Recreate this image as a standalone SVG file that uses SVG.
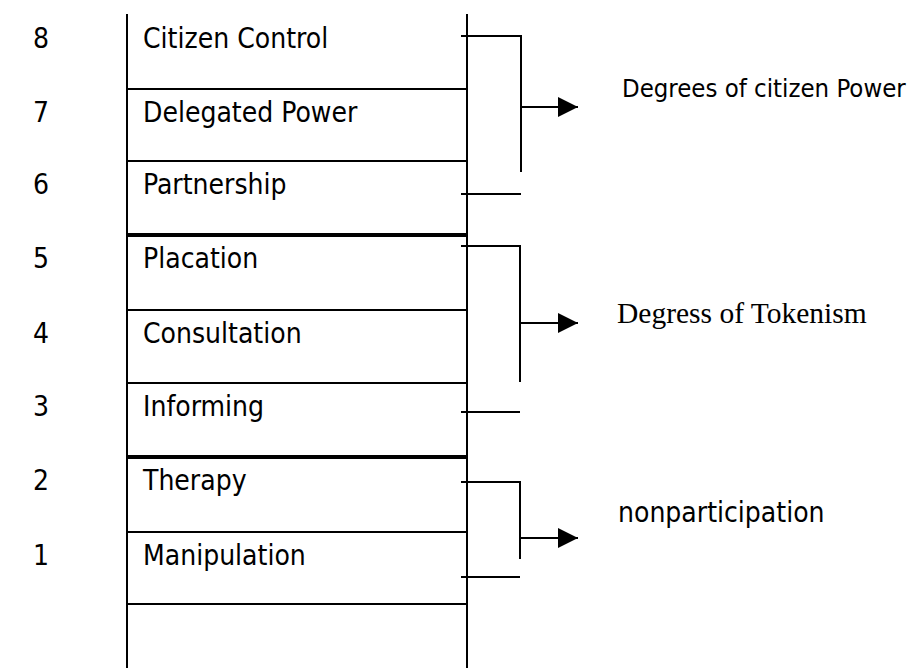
<svg xmlns="http://www.w3.org/2000/svg" width="913" height="668" viewBox="0 0 913 668">
<defs>
<style>
.t{font-family:"DejaVu Sans Condensed","DejaVu Sans","Liberation Sans",sans-serif;font-stretch:condensed;font-size:28px;fill:#000}
.n{font-family:"DejaVu Sans Condensed","DejaVu Sans","Liberation Sans",sans-serif;font-stretch:condensed;font-size:28px;fill:#000;text-anchor:middle}
.s{font-family:"Liberation Serif","Times New Roman",serif;font-size:29.5px;fill:#000}
.ln{stroke:#000;stroke-width:2;fill:none}
.thick{stroke:#000;stroke-width:4;fill:none}
</style>
<marker id="ah" viewBox="0 0 20 20" refX="20" refY="10" markerWidth="20" markerHeight="20" markerUnits="userSpaceOnUse" orient="auto">
<path d="M0,0 L20,10 L0,20 Z" fill="#000"/>
</marker>
</defs>
<rect width="913" height="668" fill="#fff"/>
<g id="ladder">
<line class="ln" x1="127" y1="14" x2="127" y2="668"/>
<line class="ln" x1="467" y1="14" x2="467" y2="668"/>
<line class="ln" x1="127" y1="89" x2="467" y2="89"/>
<line class="ln" x1="127" y1="161" x2="467" y2="161"/>
<line class="thick" x1="127" y1="235" x2="467" y2="235"/>
<line class="ln" x1="127" y1="310" x2="467" y2="310"/>
<line class="ln" x1="127" y1="383" x2="467" y2="383"/>
<line class="thick" x1="127" y1="457" x2="467" y2="457"/>
<line class="ln" x1="127" y1="532" x2="467" y2="532"/>
<line class="ln" x1="127" y1="604" x2="467" y2="604"/>
</g>
<g id="rung8"><text class="n" x="41" y="48">8</text><text class="t" x="143" y="48">Citizen Control</text></g>
<g id="rung7"><text class="n" x="41" y="122">7</text><text class="t" x="143" y="122">Delegated Power</text></g>
<g id="rung6"><text class="n" x="41" y="194">6</text><text class="t" x="143" y="194">Partnership</text></g>
<g id="rung5"><text class="n" x="41" y="268">5</text><text class="t" x="143" y="268">Placation</text></g>
<g id="rung4"><text class="n" x="41" y="343">4</text><text class="t" x="143" y="343">Consultation</text></g>
<g id="rung3"><text class="n" x="41" y="416">3</text><text class="t" x="143" y="416">Informing</text></g>
<g id="rung2"><text class="n" x="41" y="490">2</text><text class="t" x="143" y="490">Therapy</text></g>
<g id="rung1"><text class="n" x="41" y="565">1</text><text class="t" x="143" y="565">Manipulation</text></g>
<g id="connectors">
<polyline class="ln" points="461,36 521,36 521,172"/>
<line class="ln" x1="461" y1="194" x2="521" y2="194"/>
<line class="ln" x1="521" y1="107" x2="578" y2="107" marker-end="url(#ah)"/>
<polyline class="ln" points="461,246 520,246 520,382"/>
<line class="ln" x1="461" y1="412" x2="520" y2="412"/>
<line class="ln" x1="520" y1="323" x2="578" y2="323" marker-end="url(#ah)"/>
<polyline class="ln" points="461,482 520,482 520,559"/>
<line class="ln" x1="461" y1="577" x2="520" y2="577"/>
<line class="ln" x1="520" y1="538" x2="578" y2="538" marker-end="url(#ah)"/>
</g>
<g id="label-power"><text class="t" x="622" y="97" style="font-size:25.5px">Degrees of citizen Power</text></g>
<g id="label-tokenism"><text class="s" x="617" y="323">Degress of Tokenism</text></g>
<g id="label-nonpart"><text class="t" x="618" y="522">nonparticipation</text></g>
</svg>
